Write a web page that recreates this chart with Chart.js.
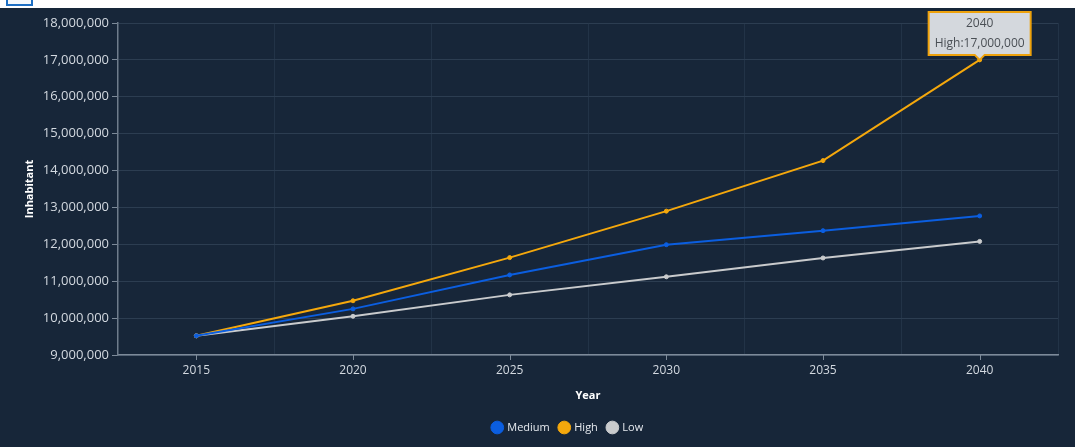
<!DOCTYPE html>
<html>
<head>
<meta charset="utf-8">
<script src="https://cdn.jsdelivr.net/npm/chart.js@4"></script>
<style>
  html, body { margin: 0; padding: 0; background: #ffffff; }
  #tab { position: absolute; left: 6px; top: 0; width: 23px; height: 4px; border: 2px solid #1d6fc4; border-top: none; background: #f4f8fc; }
  #wrap { position: absolute; left: 0; top: 8px; width: 1075px; height: 439px; background: #172639; }
</style>
</head>
<body>
<div id="tab"></div>
<div id="wrap"><canvas id="grafico"></canvas></div>
<script>
const years = ['2015', '2020', '2025', '2030', '2035', '2040'];
const medium = [9520000, 10250000, 11170000, 11990000, 12370000, 12770000];
const high = [9520000, 10470000, 11640000, 12900000, 14270000, 17000000];
const low = [9520000, 10050000, 10630000, 11120000, 11630000, 12080000];
const yMin = 9000000;
const yMax = 18000000;
const yStep = 1000000;

const fonte = `'Open Sans', 'Noto Sans', sans-serif`;
const corTexto = `#d3d9e0`;

function serie(label, valores, cor){
    return {
        label: label,
        data: valores,
        borderColor: cor,
        backgroundColor: cor,
        pointBackgroundColor: cor,
        pointBorderColor: cor,
        pointRadius: 2,
        pointBorderWidth: 1,
        borderWidth: 2,
        tension: 0
    };
}

// marcas do eixo x no centro dos rótulos (as linhas de grade ficam entre eles)
const marcasX = {
    id: 'marcasX',
    afterDraw(chart){
        let x = chart.scales.x;
        let c = chart.ctx;
        c.save();
        c.strokeStyle = `#7d8a99`;
        c.lineWidth = 1;
        for (let i = 0; i < years.length; i++) {
            let px = Math.round(x.getPixelForTick(i)) + 0.5;
            c.beginPath();
            c.moveTo(px, chart.chartArea.bottom);
            c.lineTo(px, chart.chartArea.bottom + 5);
            c.stroke();
        }
        c.restore();
    }
};

// desloca a legenda para o centro da área do gráfico
const moveLegenda = {
    id: 'moveLegenda',
    afterLayout(chart){
        let l = chart.legend;
        let d = 39;
        l.left += d;
        l.right += d;
    }
};

let config = {
    type: 'line',
    data: {
        labels: years,
        datasets: [
            serie('Medium', medium, `#0b5ee0`),
            serie('High', high, `#f5a80c`),
            serie('Low', low, `#c9cbcd`)
        ]
    },
    plugins: [marcasX, moveLegenda],
    options: {
        responsive: true,
        maintainAspectRatio: false,
        animation: false,
        events: [],
        layout: {padding: {left: 0, right: 17, top: 15, bottom: 4}},
        plugins: {
            legend: {
                position: 'bottom',
                labels: {
                    color: `#e6eaef`,
                    font: {family: fonte, size: 11},
                    usePointStyle: true,
                    pointStyle: 'circle',
                    boxWidth: 9,
                    boxHeight: 9,
                    padding: 10
                }
            },
            tooltip: {
                enabled: true,
                backgroundColor: `#d4d8dd`,
                borderColor: `#eea20c`,
                borderWidth: 2,
                cornerRadius: 0,
                displayColors: false,
                titleColor: `#4a4f55`,
                bodyColor: `#4a4f55`,
                titleFont: {family: fonte, size: 12, weight: 'normal'},
                bodyFont: {family: fonte, size: 12},
                titleAlign: 'center',
                bodyAlign: 'center',
                titleMarginBottom: 6,
                padding: {top: 4, bottom: 4, left: 6, right: 6},
                caretSize: 5,
                caretPadding: 0,
                xAlign: 'center',
                yAlign: 'bottom',
                callbacks: {
                    label: (item) => `${item.dataset.label}:${item.parsed.y.toLocaleString('en-US')}`
                }
            }
        },
        scales: {
            x: {
                offset: true,
                afterFit: (s) => { s.height = 57; },
                grid: {
                    offset: true,
                    color: `#223347`,
                    tickColor: 'transparent',
                    tickLength: 6
                },
                border: {color: `#7d8a99`, width: 1.5},
                ticks: {
                    color: corTexto,
                    font: {family: fonte, size: 12},
                    padding: 2,
                    maxRotation: 0
                },
                title: {
                    display: true,
                    text: 'Year',
                    color: `#ffffff`,
                    font: {family: fonte, size: 11, weight: 'bold'},
                    padding: {top: 4, bottom: 10}
                }
            },
            y: {
                min: yMin,
                max: yMax,
                afterFit: (s) => { s.width = 118; },
                grid: {
                    color: `#2c3d51`,
                    tickColor: `#7d8a99`,
                    tickLength: 6
                },
                border: {color: `#6f7c8c`, width: 1.5},
                ticks: {
                    stepSize: yStep,
                    color: corTexto,
                    font: {family: fonte, size: 13},
                    padding: 3,
                    callback: (v) => v.toLocaleString('en-US')
                },
                title: {
                    display: true,
                    text: 'Inhabitant',
                    color: `#ffffff`,
                    font: {family: fonte, size: 11, weight: 'bold'},
                    padding: {top: 23, bottom: 0}
                }
            }
        }
    }
};

let ctx = new Chart(document.getElementById('grafico'), config);

let ponto = ctx.getDatasetMeta(1).data[5];
ctx.tooltip.setActiveElements([{datasetIndex: 1, index: 5}], {x: ponto.x, y: ponto.y});
ctx.update();
</script>
</body>
</html>
